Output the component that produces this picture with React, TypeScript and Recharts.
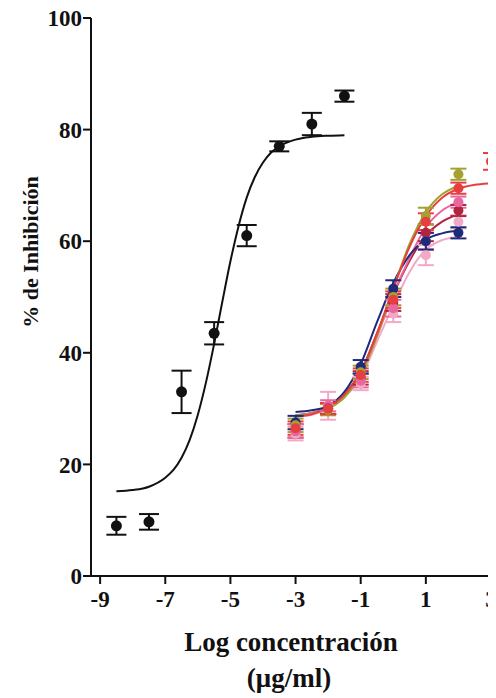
import React from 'react';
import { ComposedChart, Line, Scatter, XAxis, YAxis, ErrorBar, Label } from 'recharts';

// ---------- data ----------
const xTicks = [-9, -7, -5, -3, -1, 1, 3];
const yTicks = [0, 20, 40, 60, 80, 100];

// black (reference) series
const blackX = [-8.5, -7.5, -6.5, -5.5, -4.5, -3.5, -2.5, -1.5];
const blackY = [9.0, 9.7, 33.0, 43.5, 61.0, 77.0, 81.0, 86.0];
const blackErr = [1.6, 1.4, 3.8, 2.0, 1.9, 0.9, 2.0, 1.0];

const blackCurveX = [-8.5, -8, -7.5, -7, -6.75, -6.5, -6.25, -6, -5.75, -5.5, -5.25, -5, -4.75, -4.5, -4.25, -4, -3.75, -3.5, -3, -2.5, -2, -1.5];
const blackCurveY = [15.2, 15.4, 16.0, 17.6, 19.0, 21.2, 24.4, 28.9, 34.7, 41.6, 49.1, 56.4, 62.7, 67.8, 71.5, 74.1, 75.9, 77.0, 78.2, 78.7, 78.9, 79.0];

// colored series
const colorPointX = [-3, -2, -1, 0, 1, 2];
const navyPts = [27.5, 30.0, 37.5, 51.5, 60.0, 61.5];
const olivePts = [27.0, 29.8, 36.5, 50.0, 64.5, 72.0];
const redPointX = [-3, -2, -1, 0, 1, 2, 3];
const redPts = [26.5, 30.0, 36.0, 49.5, 63.5, 69.5, 74.3];
const darkRedPts = [26.0, 30.0, 35.5, 49.0, 61.5, 65.5];
const pinkPts = [26.0, 30.5, 35.0, 48.0, 60.0, 67.0];
const lightPinkPts = [25.5, 30.5, 34.5, 47.0, 57.5, 63.5];
const colorErr = [1.2, 1.0, 1.2, 1.5, 1.5, 1.0];
const redErr = [1.2, 1.0, 1.2, 1.5, 1.5, 1.0, 1.5];
const lightPinkErr = [1.2, 2.5, 1.2, 1.5, 1.8, 1.2];

const curveX = [-3, -2.5, -2, -1.5, -1, -0.5, 0, 0.5, 1, 1.5, 2];
const redCurveX = [-3, -2.5, -2, -1.5, -1, -0.5, 0, 0.5, 1, 1.5, 2, 2.5, 3];
const navyCurve = [29.4, 29.7, 30.5, 33.0, 38.0, 45.5, 52.5, 57.5, 60.3, 61.4, 61.9];
const redCurve = [28.6, 29.0, 30.2, 32.5, 36.5, 43.5, 51.5, 59.0, 64.5, 67.8, 69.4, 70.1, 70.4];
const oliveCurve = [28.8, 29.1, 30.0, 32.0, 36.0, 43.0, 51.5, 59.5, 65.2, 68.4, 69.9];
const pinkCurve = [28.8, 29.2, 30.2, 32.4, 36.0, 43.0, 50.5, 57.0, 62.5, 65.5, 67.0];
const darkRedCurve = [28.8, 29.2, 30.3, 32.6, 36.5, 43.5, 50.5, 56.5, 61.0, 63.5, 64.8];
const lightPinkCurve = [28.5, 28.9, 30.0, 32.2, 35.5, 42.0, 48.5, 54.5, 58.5, 60.2, 60.8];

const toRows = (xs: number[], ys: number[], es?: number[]) =>
  xs.map((x, i) => ({ x, y: ys[i], e: es ? es[i] : 0 }));

const FONT = '"Liberation Serif", "Times New Roman", serif';

const dotShape = (color: string, r: number) => (p: any) =>
  <circle cx={p.cx} cy={p.cy} r={r} fill={color} />;

const XLabel = () => (
  <g>
    <text x={283} y={649} textAnchor="middle" fontFamily={FONT} fontWeight="bold" fontSize={27} fill="#111">
      Log concentración
    </text>
    <text x={281} y={685} textAnchor="middle" fontFamily={FONT} fontWeight="bold" fontSize={27} fill="#111">
      (μg/ml)
    </text>
  </g>
);

const YLabel = () => (
  <text
    x={0}
    y={0}
    transform="translate(30 250) rotate(-90)"
    textAnchor="middle"
    fontFamily={FONT}
    fontWeight="bold"
    fontSize={22}
    fill="#111"
  >
    % de Inhibición
  </text>
);

const tickStyle = { fontSize: 23, fontWeight: 'bold' as const, fill: '#111', fontFamily: FONT };

const series = [
  { curveX, curve: lightPinkCurve, pts: lightPinkPts, px: colorPointX, err: lightPinkErr, color: '#f2a9c6' },
  { curveX, curve: darkRedCurve, pts: darkRedPts, px: colorPointX, err: colorErr, color: '#b0243f' },
  { curveX, curve: pinkCurve, pts: pinkPts, px: colorPointX, err: colorErr, color: '#e9679f' },
  { curveX, curve: navyCurve, pts: navyPts, px: colorPointX, err: colorErr, color: '#1f2a7a' },
  { curveX, curve: oliveCurve, pts: olivePts, px: colorPointX, err: colorErr, color: '#a3a230' },
  { curveX: redCurveX, curve: redCurve, pts: redPts, px: redPointX, err: redErr, color: '#e5403f' },
];

export default function App() {
  return (
    <div style={{ marginTop: -6 }}>
      <ComposedChart width={488} height={696} margin={{ top: 16, right: 5, bottom: 0, left: 0 }}>
        <XAxis
          dataKey="x"
          type="number"
          domain={[-9.28, 3]}
          ticks={xTicks}
          allowDataOverflow
          axisLine={{ stroke: '#111', strokeWidth: 2 }}
          tickLine={{ stroke: '#111', strokeWidth: 2 }}
          tickSize={8}
          tickMargin={7}
          tick={tickStyle}
          height={122}
          interval={0}
        >
          <Label content={<XLabel />} />
        </XAxis>
        <YAxis
          dataKey="y"
          type="number"
          domain={[0, 100]}
          ticks={yTicks}
          allowDataOverflow
          axisLine={{ stroke: '#111', strokeWidth: 2 }}
          tickLine={{ stroke: '#111', strokeWidth: 2 }}
          tickSize={8}
          tickMargin={1}
          tick={tickStyle}
          width={83}
          interval={0}
        >
          <Label content={<YLabel />} />
        </YAxis>

        {series.map((s, i) => (
          <Line
            key={'c' + i}
            data={toRows(s.curveX, s.curve)}
            dataKey="y"
            type="monotone"
            stroke={s.color}
            strokeWidth={2}
            dot={false}
            activeDot={false}
            isAnimationActive={false}
          />
        ))}
        {series.map((s, i) => (
          <Scatter
            key={'p' + i}
            data={toRows(s.px, s.pts, s.err)}
            dataKey="y"
            fill={s.color}
            shape={dotShape(s.color, 5)}
            isAnimationActive={false}
          >
            <ErrorBar dataKey="e" direction="y" width={8} stroke={s.color} strokeWidth={2} />
          </Scatter>
        ))}

        <Line
          data={toRows(blackCurveX, blackCurveY)}
          dataKey="y"
          type="monotone"
          stroke="#111"
          strokeWidth={2}
          dot={false}
          activeDot={false}
          isAnimationActive={false}
        />
        <Scatter
          data={toRows(blackX, blackY, blackErr)}
          dataKey="y"
          fill="#111"
          shape={dotShape('#111', 5.5)}
          isAnimationActive={false}
        >
          <ErrorBar dataKey="e" direction="y" width={10} stroke="#111" strokeWidth={2} />
        </Scatter>
      </ComposedChart>
    </div>
  );
}
